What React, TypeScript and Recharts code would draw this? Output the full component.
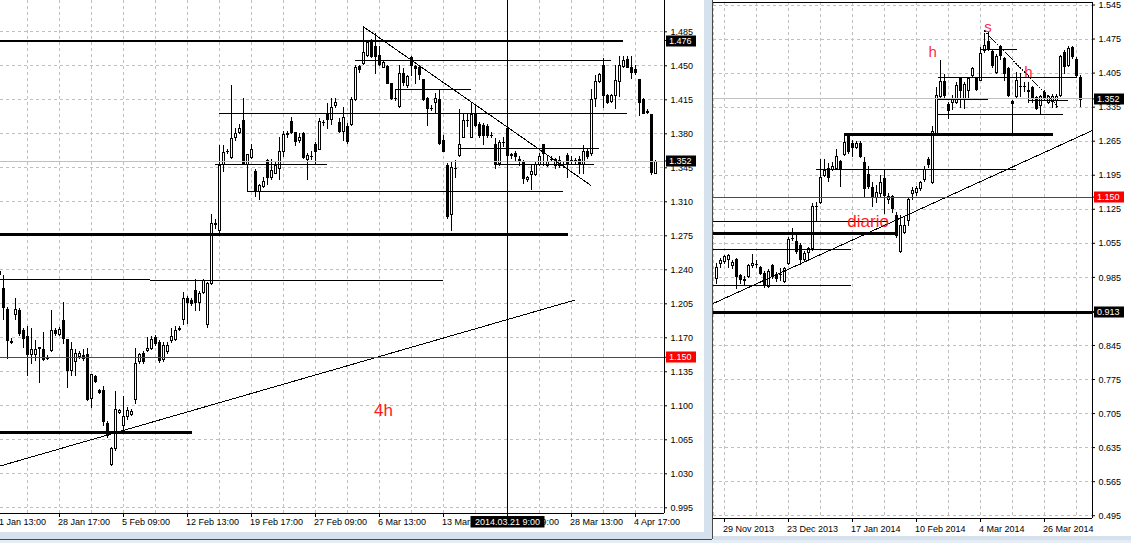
import React from 'react';
import { ComposedChart, Bar, XAxis, YAxis, CartesianGrid, ReferenceLine, ReferenceDot } from 'recharts';

const FONT = '"Liberation Sans", Arial, sans-serif';

type OHLC = [number, number, number, number];

// ---------- 4h panel data: [open, high, low, close], first bar index -1 ----------
const firstIndex4h = -1;
const candles4h: OHLC[] = [
  [1.239,1.244,1.232,1.236],[1.221,1.235,1.189,1.202],[1.200,1.202,1.149,1.168],[1.167,1.170,1.165,1.166],
  [1.195,1.211,1.189,1.200],[1.199,1.201,1.173,1.175],[1.178,1.180,1.161,1.170],[1.172,1.182,1.132,1.153],
  [1.153,1.180,1.144,1.158],[1.153,1.168,1.147,1.158],[1.160,1.161,1.124,1.161],[1.158,1.176,1.147,1.148],
  [1.149,1.152,1.148,1.150],[1.157,1.199,1.156,1.178],[1.178,1.180,1.173,1.175],[1.174,1.181,1.173,1.179],
  [1.188,1.207,1.165,1.170],[1.169,1.169,1.119,1.137],[1.137,1.166,1.132,1.158],[1.146,1.158,1.132,1.154],
  [1.151,1.156,1.149,1.154],[1.152,1.158,1.147,1.149],[1.153,1.160,1.106,1.107],[1.108,1.133,1.099,1.133],
  [1.131,1.132,1.125,1.126],[1.116,1.117,1.113,1.114],[1.116,1.120,1.080,1.084],[1.082,1.084,1.068,1.070],
  [1.040,1.058,1.039,1.057],[1.057,1.115,1.055,1.097],[1.094,1.097,1.093,1.096],[1.080,1.110,1.075,1.090],
  [1.089,1.099,1.086,1.096],[1.092,1.097,1.091,1.095],[1.107,1.159,1.103,1.144],[1.146,1.154,1.144,1.153],
  [1.154,1.156,1.144,1.146],[1.157,1.171,1.156,1.159],[1.159,1.172,1.158,1.169],[1.171,1.173,1.163,1.165],
  [1.166,1.168,1.145,1.147],[1.148,1.166,1.146,1.163],[1.156,1.166,1.154,1.163],[1.168,1.180,1.166,1.172],
  [1.169,1.182,1.168,1.178],[1.179,1.182,1.178,1.180],[1.189,1.217,1.184,1.211],[1.211,1.213,1.185,1.207],
  [1.209,1.211,1.204,1.206],[1.219,1.231,1.199,1.207],[1.207,1.218,1.199,1.216],[1.217,1.231,1.216,1.229],
  [1.184,1.227,1.181,1.226],[1.226,1.297,1.225,1.288],[1.287,1.292,1.283,1.288],[1.281,1.368,1.278,1.348],
  [1.349,1.368,1.342,1.361],[1.362,1.364,1.360,1.362],[1.356,1.430,1.355,1.376],[1.377,1.386,1.374,1.381],
  [1.382,1.390,1.381,1.386],[1.394,1.417,1.349,1.349],[1.349,1.359,1.348,1.359],[1.356,1.369,1.355,1.364],
  [1.342,1.344,1.316,1.321],[1.321,1.328,1.313,1.327],[1.326,1.336,1.325,1.331],[1.353,1.354,1.328,1.336],
  [1.336,1.354,1.333,1.343],[1.340,1.352,1.340,1.348],[1.345,1.377,1.333,1.362],[1.362,1.383,1.357,1.380],
  [1.380,1.383,1.377,1.381],[1.393,1.397,1.381,1.382],[1.382,1.382,1.368,1.373],[1.374,1.381,1.372,1.377],
  [1.381,1.382,1.355,1.356],[1.354,1.360,1.333,1.358],[1.357,1.362,1.354,1.357],[1.370,1.372,1.350,1.362],
  [1.364,1.396,1.364,1.393],[1.392,1.394,1.389,1.392],[1.401,1.412,1.386,1.395],[1.395,1.417,1.390,1.408],
  [1.410,1.417,1.408,1.413],[1.392,1.396,1.382,1.383],[1.383,1.408,1.374,1.397],[1.388,1.391,1.371,1.373],
  [1.390,1.418,1.389,1.416],[1.416,1.451,1.415,1.449],[1.450,1.451,1.444,1.447],[1.453,1.491,1.452,1.464],
  [1.461,1.477,1.460,1.474],[1.474,1.478,1.459,1.460],[1.470,1.484,1.443,1.460],[1.461,1.470,1.451,1.452],
  [1.449,1.456,1.449,1.454],[1.450,1.451,1.432,1.432],[1.432,1.432,1.416,1.417],[1.417,1.426,1.415,1.417],
  [1.409,1.451,1.408,1.443],[1.443,1.448,1.430,1.433],[1.430,1.441,1.428,1.440],[1.459,1.460,1.441,1.451],
  [1.450,1.451,1.432,1.448],[1.449,1.450,1.436,1.442],[1.436,1.436,1.415,1.416],[1.417,1.418,1.389,1.407],
  [1.407,1.410,1.405,1.407],[1.413,1.422,1.401,1.417],[1.416,1.425,1.370,1.371],[1.374,1.379,1.362,1.362],
  [1.348,1.350,1.293,1.295],[1.297,1.352,1.281,1.346],[1.345,1.353,1.336,1.345],[1.358,1.406,1.357,1.370],
  [1.377,1.401,1.377,1.394],[1.394,1.400,1.388,1.394],[1.377,1.412,1.377,1.400],[1.400,1.410,1.388,1.389],
  [1.390,1.392,1.377,1.379],[1.389,1.391,1.369,1.379],[1.388,1.390,1.377,1.379],[1.379,1.382,1.377,1.379],
  [1.370,1.376,1.345,1.349],[1.350,1.374,1.348,1.372],[1.372,1.377,1.367,1.372],[1.386,1.392,1.355,1.358],
  [1.359,1.360,1.355,1.358],[1.360,1.362,1.353,1.357],[1.354,1.357,1.348,1.352],[1.352,1.353,1.329,1.334],
  [1.333,1.337,1.331,1.336],[1.339,1.348,1.323,1.342],[1.339,1.352,1.338,1.349],[1.349,1.360,1.348,1.357],
  [1.369,1.369,1.348,1.360],[1.348,1.357,1.347,1.352],[1.354,1.357,1.352,1.354],[1.348,1.355,1.345,1.354],
  [1.348,1.357,1.346,1.353],[1.349,1.352,1.346,1.349],[1.358,1.360,1.336,1.350],[1.353,1.357,1.350,1.353],
  [1.353,1.355,1.350,1.352],[1.354,1.357,1.340,1.349],[1.349,1.368,1.340,1.362],[1.362,1.364,1.355,1.357],
  [1.360,1.426,1.358,1.416],[1.417,1.441,1.409,1.434],[1.434,1.443,1.433,1.442],[1.451,1.458,1.408,1.420],
  [1.420,1.421,1.412,1.413],[1.414,1.421,1.413,1.420],[1.420,1.451,1.407,1.435],[1.434,1.460,1.419,1.451],
  [1.450,1.460,1.449,1.456],[1.457,1.460,1.449,1.449],[1.449,1.460,1.437,1.444],[1.447,1.451,1.442,1.444],
  [1.436,1.436,1.399,1.413],[1.416,1.417,1.401,1.401],[1.403,1.406,1.401,1.402],[1.400,1.400,1.339,1.341],
  [1.340,1.353,1.340,1.352],
];

// ---------- daily panel data ----------
const firstIndexDaily = 0;
const candlesDaily: OHLC[] = [
  [0.983,1.014,0.974,1.007],[1.015,1.024,1.007,1.021],[1.019,1.031,1.015,1.029],[1.022,1.033,1.007,1.030],
  [1.011,1.021,1.004,1.017],[1.022,1.024,0.963,0.987],[0.990,0.992,0.973,0.981],[0.980,0.987,0.970,0.981],
  [0.988,1.013,0.985,1.011],[1.011,1.033,1.007,1.015],[1.012,1.021,1.006,1.013],[1.007,1.008,0.992,0.995],
  [0.995,0.999,0.966,0.969],[0.967,1.002,0.965,0.999],[1.011,1.013,0.983,0.987],[0.992,0.997,0.978,0.983],
  [0.992,1.004,0.980,0.992],[0.978,1.007,0.976,1.004],[1.014,1.067,1.013,1.063],[1.065,1.086,1.062,1.065],
  [1.059,1.077,1.035,1.040],[1.052,1.055,1.013,1.022],[1.022,1.040,1.020,1.036],[1.038,1.048,1.021,1.045],
  [1.045,1.137,1.041,1.132],[1.132,1.141,1.100,1.132],[1.139,1.228,1.137,1.192],[1.195,1.228,1.194,1.205],
  [1.209,1.220,1.184,1.191],[1.207,1.223,1.205,1.213],[1.209,1.248,1.207,1.235],[1.225,1.226,1.173,1.209],
  [1.239,1.281,1.237,1.264],[1.278,1.281,1.241,1.244],[1.262,1.267,1.235,1.254],[1.254,1.266,1.250,1.261],
  [1.262,1.266,1.232,1.235],[1.223,1.232,1.151,1.168],[1.198,1.213,1.168,1.172],[1.170,1.182,1.132,1.151],
  [1.151,1.175,1.141,1.161],[1.159,1.196,1.151,1.182],[1.189,1.206,1.118,1.154],[1.146,1.158,1.137,1.152],
  [1.152,1.154,1.120,1.127],[1.113,1.120,1.069,1.072],[1.040,1.113,1.038,1.093],[1.079,1.110,1.076,1.093],
  [1.103,1.150,1.093,1.146],[1.158,1.170,1.146,1.165],[1.160,1.172,1.155,1.168],[1.168,1.184,1.165,1.181],
  [1.187,1.213,1.184,1.207],[1.229,1.233,1.212,1.218],[1.182,1.296,1.180,1.285],[1.281,1.376,1.280,1.360],
  [1.357,1.431,1.355,1.388],[1.389,1.403,1.355,1.360],[1.342,1.346,1.312,1.329],[1.346,1.360,1.331,1.353],
  [1.346,1.386,1.343,1.381],[1.394,1.398,1.336,1.370],[1.351,1.386,1.333,1.383],[1.370,1.398,1.353,1.394],
  [1.401,1.417,1.398,1.415],[1.394,1.398,1.370,1.372],[1.391,1.458,1.390,1.447],[1.453,1.488,1.449,1.463],
  [1.470,1.492,1.453,1.454],[1.451,1.453,1.418,1.422],[1.408,1.444,1.406,1.440],[1.461,1.463,1.433,1.442],
  [1.437,1.439,1.390,1.406],[1.415,1.417,1.358,1.360],[1.348,1.349,1.280,1.344],[1.358,1.408,1.355,1.391],
  [1.378,1.405,1.357,1.378],[1.379,1.387,1.369,1.378],[1.370,1.387,1.346,1.368],[1.376,1.379,1.346,1.355],
  [1.355,1.358,1.331,1.333],[1.340,1.360,1.321,1.357],[1.367,1.370,1.351,1.355],[1.346,1.360,1.343,1.357],
  [1.348,1.362,1.336,1.358],[1.350,1.362,1.335,1.358],[1.360,1.442,1.358,1.440],[1.449,1.452,1.405,1.420],
  [1.422,1.461,1.420,1.456],[1.458,1.461,1.437,1.440],[1.435,1.439,1.398,1.401],[1.398,1.401,1.337,1.351],
];

// ---------- axes ----------
const priceTicks4h = [0.995,1.03,1.065,1.1,1.135,1.17,1.205,1.24,1.275,1.31,1.345,1.38,1.415,1.45,1.485];
const priceTicksDaily = [0.495,0.565,0.635,0.705,0.775,0.845,0.915,0.985,1.055,1.125,1.195,1.265,1.335,1.405,1.475,1.545];
const gridTicks4h = [-2,6,14,22,30,38,46,54,62,70,78,86,94,102,110,118,126,134,142,150,158];
const dateTicks4h = [-2,14,30,46,62,78,94,110,126,142,158];
const dateLabels4h = ['21 Jan 13:00','28 Jan 17:00','5 Feb 09:00','12 Feb 13:00','19 Feb 17:00','27 Feb 09:00','6 Mar 13:00','13 Mar 17:00','21 Mar 09:00','28 Mar 13:00','4 Apr 17:00'];
const gridTicksDaily = [2,10,18,26,34,42,50,58,66,74,82,90];
const dateTicksDaily = [2,18,34,50,66,82];
const dateLabelsDaily = ['29 Nov 2013','23 Dec 2013','17 Jan 2014','10 Feb 2014','4 Mar 2014','26 Mar 2014'];

const xDomain4h: [number, number] = [-3.875, 165.125];
const yDomain4h: [number, number] = [0.98964, 1.51774];
const xDomainDaily: [number, number] = [-0.875, 93.875];
const yDomainDaily: [number, number] = [0.49031, 1.55117];

// ---------- drawn objects: [price, fromBar, toBar] ----------
const thinLevels4h = [
  [1.4559, 87.95, 151.8], [1.4254, 97.95, 116.8], [1.4004, 53.95, 155.8], [1.3647, 113.95, 148.8],
  [1.3489, 52.95, 80.8], [1.3486, 122.95, 147.6], [1.3208, 60.95, 139.8], [1.2304, -3.875, 36.6],
  [1.2294, 36.6, 109.95],
];
const mediumLevels4h = [[1.476, -3.875, 154.8]];
const thickLevels4h = [[1.2762, -3.875, 141.1], [1.0726, -3.875, 47.1]];
const bracket4h = [[60.95, 1.3489, 1.3208]]; // [bar, fromPrice, toPrice]
const trendLines4h = [[-3.875, 1.0344, 142.9, 1.2089], [89.95, 1.4903, 146.8, 1.327]];
const cursorBar4h = 126;
const cursorLabel4h = '2014.03.21 9:00';
const notes4h = [{ text: '4h', bar: 95, price: 1.0957 }];

const thinLevelsDaily = [
  [1.4539, 65.9, 75.05], [1.3964, 55.45, 90.05], [1.3497, 55.4, 67.75], [1.3483, 77.95, 87.75],
  [1.3203, 55.2, 86.7], [1.2072, 24.9, 74.8], [1.0999, -0.875, 42.9], [1.0413, -0.875, 33.7],
  [0.9673, -0.875, 33.7],
];
const thickLevelsDaily = [[1.2783, 32, 84.05], [1.0742, -0.875, 45.1]];
const risingTrendDaily = [[-0.875, 0.931, 93.875, 1.2866]];
const fallingTrendDaily = [[66.9, 1.4922, 85.45, 1.3359]];
const notesDaily = [
  { text: 'diario', bar: 37.9, price: 1.1 },
  { text: 'h', bar: 54.05, price: 1.4484 },
  { text: 's', bar: 67.9, price: 1.5008 },
  { text: 'h', bar: 77.95, price: 1.4087 },
];

const lastPrice = 1.352;
const alertPrice = 1.15;
const floorDaily = 0.913;
const topLevel4h = 1.476;

// price tags on the axis: [price, fill]
const tags4h: [number, string][] = [[topLevel4h, '#000'], [lastPrice, '#000'], [alertPrice, '#ff0000']];
const tagsDaily: [number, string][] = [[lastPrice, '#000'], [alertPrice, '#ff0000'], [floorDaily, '#000']];

const toRows = (list: OHLC[], first: number) =>
  list.map((d, i) => ({ x: i + first, o: d[0], h: d[1], l: d[2], c: d[3] }));
const rows4h = toRows(candles4h, firstIndex4h);
const rowsDaily = toRows(candlesDaily, firstIndexDaily);

// ---------- shapes ----------
function Candle(props: any) {
  const { x, y, width, height, payload } = props;
  if (x == null || y == null || !payload) return <g />;
  const top = Math.min(y, y + height);
  const bottom = Math.max(y, y + height);
  const { o, h, l, c } = payload;
  const span = h - l || 1;
  const py = (v: number) => bottom - ((v - l) / span) * (bottom - top);
  const cx = Math.floor(x + width / 2);
  const bTop = Math.round(py(Math.max(o, c))) + 0.5;
  const bBot = Math.round(py(Math.min(o, c))) + 0.5;
  const bull = c >= o;
  return (
    <g shapeRendering="crispEdges">
      <line x1={cx + 0.5} x2={cx + 0.5} y1={Math.round(top)} y2={Math.round(bottom) + 1} stroke="#000" strokeWidth={1} />
      {bBot - bTop < 1 ? (
        <line x1={cx - 1} x2={cx + 2} y1={bTop} y2={bTop} stroke="#000" strokeWidth={1} />
      ) : (
        <rect x={cx - 0.5} y={bTop} width={2} height={bBot - bTop} fill={bull ? '#fff' : '#000'} stroke="#000" strokeWidth={1} />
      )}
    </g>
  );
}

const makeYTick = (tags: [number, string][]) => (props: any) => {
  const { x, y, payload } = props;
  const v = Number(payload.value);
  const tag = tags.find((t) => Math.abs(t[0] - v) < 1e-9);
  if (tag) {
    const cy = Math.round(y);
    return (
      <g>
        <rect x={x - 4.5} y={cy - 5.5} width={30} height={11} fill={tag[1]} />
        <text x={x - 1.5} y={cy} dy="0.35em" textAnchor="start" fill="#fff" fontSize={9} fontFamily={FONT}>
          {v.toFixed(3)}
        </text>
      </g>
    );
  }
  return (
    <text x={x} y={y} dy="0.35em" textAnchor="start" fill="#000" fontSize={9} fontFamily={FONT}>
      {v.toFixed(3)}
    </text>
  );
};

const makeXTick = (labelTicks: number[], labels: string[], offset: number, cursorBar?: number, cursorText?: string) => (props: any) => {
  const { x, y, payload } = props;
  const idx = labelTicks.indexOf(payload.value);
  if (idx < 0) return <g />;
  const px = Math.floor(x) + 0.5;
  const isCursor = cursorBar !== undefined && payload.value === cursorBar;
  return (
    <g>
      <line x1={px} x2={px} y1={y} y2={y + 3.5} stroke="#000" strokeWidth={1} shapeRendering="crispEdges" />
      <text x={x - 1.5} y={y + offset} dy="0.35em" textAnchor="start" fill="#000" fontSize={9} fontFamily={FONT}>
        {labels[idx]}
      </text>
      {isCursor && (
        <g>
          <rect x={x - 37} y={y + 3} width={74} height={11.5} fill="#000" />
          <text x={x} y={y + offset} dy="0.35em" textAnchor="middle" fill="#fff" fontSize={9} fontFamily={FONT}>
            {cursorText}
          </text>
        </g>
      )}
    </g>
  );
};

const noteShape = (text: string, color: string, size: number) => (props: any) => (
  <text x={props.cx} y={props.cy} dy="0.35em" textAnchor="middle" fill={color} fontSize={size} fontFamily={FONT}>
    {text}
  </text>
);

const hLine = (lv: number[], key: string, width: number, color = '#000') => (
  <ReferenceLine
    key={key}
    segment={[{ x: lv[1], y: lv[0] }, { x: lv[2], y: lv[0] }]}
    stroke={color}
    strokeWidth={width}
    ifOverflow="visible"
    shapeRendering="crispEdges"
  />
);

const tLine = (t: number[], key: string, dash?: string) => (
  <ReferenceLine
    key={key}
    segment={[{ x: t[0], y: t[1] }, { x: t[2], y: t[3] }]}
    stroke="#000"
    strokeWidth={1}
    strokeDasharray={dash}
    ifOverflow="visible"
    shapeRendering="crispEdges"
  />
);

export default function App() {
  const yTicks4h = [...priceTicks4h, ...tags4h.map((t) => t[0])];
  const yTicksDaily = [...priceTicksDaily, ...tagsDaily.map((t) => t[0])];
  return (
    <div style={{ position: 'fixed', left: 0, top: 0, width: 1131, height: 543, overflow: 'hidden', background: '#fff' }}>
      {/* 4h panel */}
      <div style={{ position: 'absolute', left: -12, top: 0 }}>
        <ComposedChart width={720} height={532} data={rows4h} margin={{ top: 0, right: 0, bottom: 0, left: 0 }}>
          <CartesianGrid stroke="#c0c0c0" strokeDasharray="3 3" shapeRendering="crispEdges" horizontalValues={priceTicks4h} />
          <XAxis
            type="number" dataKey="x" domain={xDomain4h} allowDataOverflow ticks={gridTicks4h} interval={0}
            height={19} tickSize={0} tickMargin={0} tickLine={false}
            axisLine={{ stroke: '#000', shapeRendering: 'crispEdges' }}
            tick={makeXTick(dateTicks4h, dateLabels4h, 8.7, cursorBar4h, cursorLabel4h)}
          />
          <YAxis
            type="number" orientation="right" domain={yDomain4h} allowDataOverflow ticks={yTicks4h} interval={0}
            width={44} tickSize={3} tickMargin={3.5}
            tickLine={{ stroke: '#000' }} axisLine={{ stroke: '#000', shapeRendering: 'crispEdges' }}
            tick={makeYTick(tags4h)}
          />
          <ReferenceLine y={lastPrice} stroke="#c0c0c0" shapeRendering="crispEdges" />
          <Bar dataKey={(d: any) => [d.l, d.h]} barSize={4} shape={Candle} isAnimationActive={false} />
          {thinLevels4h.map((lv, i) => hLine(lv, 'tl' + i, 1))}
          {mediumLevels4h.map((lv, i) => hLine(lv, 'ml' + i, 2))}
          {thickLevels4h.map((lv, i) => hLine(lv, 'kl' + i, 3))}
          {bracket4h.map((b, i) => tLine([b[0], b[1], b[0], b[2]], 'br' + i))}
          {trendLines4h.map((t, i) => tLine(t, 'tr' + i))}
          <ReferenceLine y={alertPrice} stroke="#ff0000" shapeRendering="crispEdges" />
          <ReferenceLine x={cursorBar4h} stroke="#000" shapeRendering="crispEdges" />
          {notes4h.map((n, i) => (
            <ReferenceDot key={'n' + i} x={n.bar} y={n.price} r={1} shape={noteShape(n.text, '#ff1a1a', 17)} />
          ))}
        </ComposedChart>
      </div>

      {/* window chrome */}
      <div style={{ position: 'absolute', left: 704, top: 0, width: 8, height: 539, background: '#d6e1ee' }} />
      <div style={{ position: 'absolute', left: 712, top: 0, width: 1, height: 539, background: '#4a4a4a' }} />
      <div style={{ position: 'absolute', left: 0, top: 532, width: 712, height: 7, background: '#d6e1ee' }} />
      <div style={{ position: 'absolute', left: 0, top: 539, width: 712, height: 1, background: '#4a4a4a' }} />
      <div style={{ position: 'absolute', left: 0, top: 540, width: 1131, height: 3, background: '#e6ecf4' }} />
      <div style={{ position: 'absolute', left: 713, top: 536, width: 418, height: 4, background: '#d6e1ee' }} />

      {/* daily panel */}
      <div style={{ position: 'absolute', left: 713, top: 0 }}>
        <ComposedChart width={418} height={536} data={rowsDaily} margin={{ top: 2, right: 0, bottom: 0, left: 0 }}>
          <CartesianGrid stroke="#c0c0c0" strokeDasharray="3 3" shapeRendering="crispEdges" horizontalValues={priceTicksDaily} />
          <XAxis
            type="number" dataKey="x" domain={xDomainDaily} allowDataOverflow ticks={gridTicksDaily} interval={0}
            height={18} tickSize={0} tickMargin={0} tickLine={false}
            axisLine={{ stroke: '#000', shapeRendering: 'crispEdges' }}
            tick={makeXTick(dateTicksDaily, dateLabelsDaily, 10.8)}
          />
          <YAxis
            type="number" orientation="right" domain={yDomainDaily} allowDataOverflow ticks={yTicksDaily} interval={0}
            width={39} tickSize={3} tickMargin={3.5}
            tickLine={{ stroke: '#000' }} axisLine={{ stroke: '#000', shapeRendering: 'crispEdges' }}
            tick={makeYTick(tagsDaily)}
          />
          <ReferenceLine y={yDomainDaily[1]} stroke="#000" shapeRendering="crispEdges" ifOverflow="visible" />
          <ReferenceLine y={lastPrice} stroke="#c0c0c0" shapeRendering="crispEdges" />
          <Bar dataKey={(d: any) => [d.l, d.h]} barSize={4} shape={Candle} isAnimationActive={false} />
          {thinLevelsDaily.map((lv, i) => hLine(lv, 'dl' + i, 1))}
          {thickLevelsDaily.map((lv, i) => hLine(lv, 'dk' + i, 3))}
          {risingTrendDaily.map((t, i) => tLine(t, 'dr' + i))}
          {fallingTrendDaily.map((t, i) => tLine(t, 'df' + i, '2 1'))}
          <ReferenceLine y={alertPrice} stroke="#ff0000" shapeRendering="crispEdges" />
          <ReferenceLine y={floorDaily} stroke="#000" strokeWidth={3} shapeRendering="crispEdges" />
          {notesDaily.map((n, i) => (
            <ReferenceDot
              key={'d' + i} x={n.bar} y={n.price} r={1}
              shape={noteShape(n.text, n.text === 'diario' ? '#ff1a1a' : '#ff2a48', n.text === 'diario' ? 17 : 15)}
            />
          ))}
        </ComposedChart>
      </div>
    </div>
  );
}
